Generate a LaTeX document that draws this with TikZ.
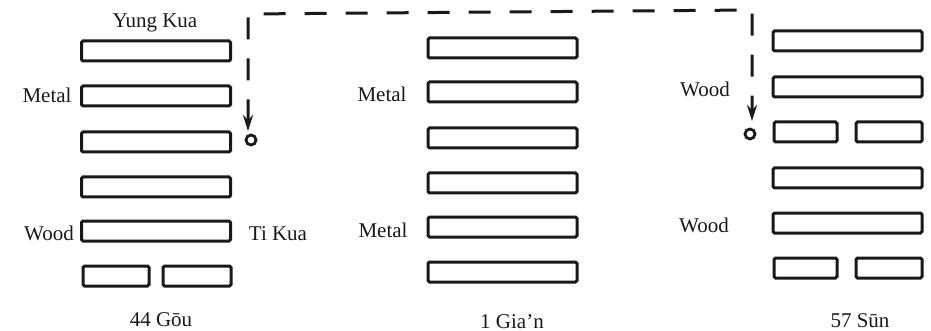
\documentclass[tikz,border=0pt]{standalone}
\usepackage{fontspec}
\setmainfont{Liberation Serif}
\usetikzlibrary{arrows.meta}
\tikzset{
  bar/.style={draw=black!90, line width=3pt, rounded corners=1.5pt, minimum height=20pt, inner sep=0pt},
  fullbar/.style={bar, minimum width=149pt},
  halfbar/.style={bar, minimum width=65pt},
  lbl/.style={anchor=base, inner sep=0pt, font=\fontsize{21}{25}\selectfont, text=black!90},
  ring/.style={draw=black!90, circle, line width=2.8pt, minimum size=10pt, inner sep=0pt},
  conn/.style={draw=black!90, line width=3pt, dash pattern=on 22pt off 19pt, {Stealth[length=16pt,width=10pt]}-{Stealth[length=16pt,width=10pt]}}
}
\begin{document}
\begin{tikzpicture}[x=1pt,y=-1pt]
\useasboundingbox (0,0) rectangle (931,331);
% 44 Gou
\node[fullbar] (a1) at (156,51) {};
\node[fullbar] (a2) at (156,96) {};
\node[fullbar] (a3) at (156,142) {};
\node[fullbar] (a4) at (156,187) {};
\node[fullbar] (a5) at (156,231) {};
\node[halfbar, minimum width=66pt] (a6l) at (116,276) {};
\node[halfbar, minimum width=68pt] (a6r) at (197,276) {};
\node[lbl] (yk) at (155,28) {Yung Kua};
\node[lbl] (m1) at (47,103) {Metal};
\node[lbl] (w1) at (49,240) {Wood};
\node[lbl] (tk) at (278,240) {Ti Kua};
\node[lbl] (n1) at (161,326) {44 Gōu};
% 1 Gia'n
\node[fullbar] (b1) at (502.5,48) {};
\node[fullbar] (b2) at (502.5,92) {};
\node[fullbar] (b3) at (502.5,138) {};
\node[fullbar] (b4) at (502.5,183) {};
\node[fullbar] (b5) at (502.5,227) {};
\node[fullbar] (b6) at (502.5,272) {};
\node[lbl] (m2) at (382,102) {Metal};
\node[lbl] (m3) at (383,237) {Metal};
\node[lbl] (n2) at (512,328) {1 Gia’n};
% 57 Sun
\node[fullbar] (c1) at (847.5,41) {};
\node[fullbar] (c2) at (847.5,87) {};
\node[halfbar, minimum width=63pt] (c3l) at (805.5,132) {};
\node[halfbar, minimum width=66pt] (c3r) at (889,132) {};
\node[fullbar] (c4) at (847.5,178) {};
\node[fullbar] (c5) at (847.5,223) {};
\node[halfbar, minimum width=63pt] (c6l) at (805.5,268) {};
\node[halfbar, minimum width=66pt] (c6r) at (889,268) {};
\node[lbl] (w2) at (705,97) {Wood};
\node[lbl] (w3) at (704,232) {Wood};
\node[lbl] (n3) at (860,327) {57 Sūn};
% connector
\node[ring] (rl) at (251,140) {};
\node[ring] (rr) at (750,134) {};
\coordinate (eL) at (248,131);
\coordinate (eR) at (752,121);
\coordinate (tL) at (248,14);
\coordinate (tR) at (752,10);
\draw[conn] (eL) -- (tL) -- (tR) -- (eR);
\end{tikzpicture}
\end{document}
